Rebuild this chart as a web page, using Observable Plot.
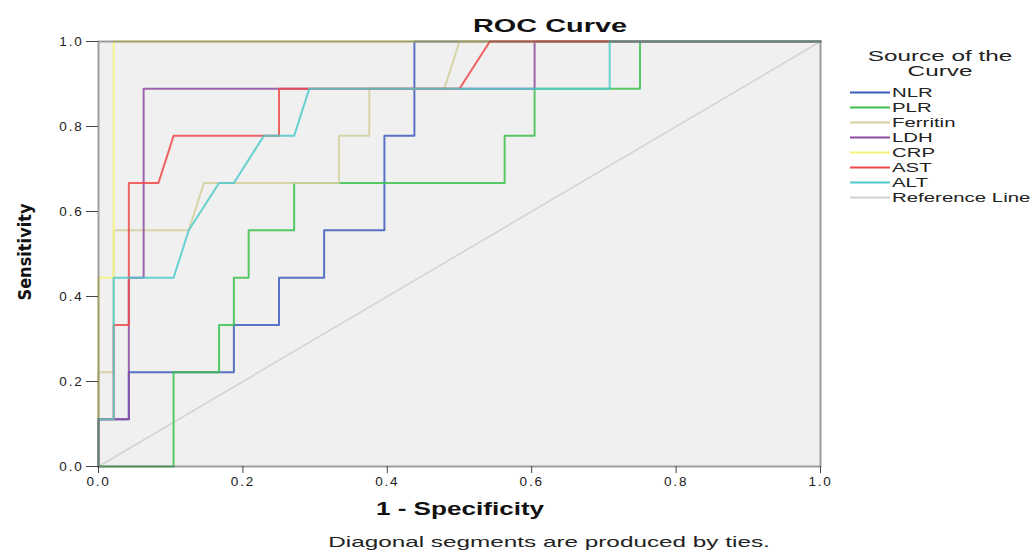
<!DOCTYPE html>
<html>
<head>
<meta charset="utf-8">
<script src="https://cdn.jsdelivr.net/npm/d3@7"></script>
<script src="https://cdn.jsdelivr.net/npm/@observablehq/plot@0.6"></script>
<style>
  body { margin: 0; background: #fff; }
  #chart svg { display: block; }
  #chart svg text { font-family: "Liberation Sans", Arial, sans-serif; }
</style>
</head>
<body>
<div id="chart"></div>
<script>
// ---- Data (1 - Specificity, Sensitivity) ----
const seriesNames = ["NLR", "PLR", "Ferritin", "LDH", "CRP", "AST", "ALT"];
const seriesColors = ["#3d5cbd", "#3cc04c", "#d3cf9c", "#8e4a9e", "#f7f37a", "#f04848", "#4fcaca"];
const referenceColor = "#d2d2d2";

const nlrX = [0, 0, 0.042, 0.042, 0.1875, 0.1875, 0.25, 0.25, 0.3125, 0.3125, 0.396, 0.396, 0.4375, 0.4375, 1];
const nlrY = [0, 0.111, 0.111, 0.222, 0.222, 0.333, 0.333, 0.444, 0.444, 0.556, 0.556, 0.778, 0.778, 1, 1];

const plrX = [0, 0.104, 0.104, 0.167, 0.167, 0.1875, 0.1875, 0.208, 0.208, 0.271, 0.271, 0.5625, 0.5625, 0.604, 0.604, 0.75, 0.75, 1];
const plrY = [0, 0, 0.222, 0.222, 0.333, 0.333, 0.444, 0.444, 0.556, 0.556, 0.667, 0.667, 0.778, 0.778, 0.889, 0.889, 1, 1];

const ferritinX = [0, 0, 0.021, 0.021, 0.125, 0.146, 0.333, 0.333, 0.375, 0.375, 0.479, 0.5, 1];
const ferritinY = [0, 0.222, 0.222, 0.556, 0.556, 0.667, 0.667, 0.778, 0.778, 0.889, 0.889, 1, 1];

const ldhX = [0, 0, 0.042, 0.042, 0.0625, 0.0625, 0.604, 0.604, 1];
const ldhY = [0, 0.111, 0.111, 0.444, 0.444, 0.889, 0.889, 1, 1];

const crpX = [0, 0, 0.021, 0.021, 1];
const crpY = [0, 0.444, 0.444, 1, 1];

const astX = [0, 0, 0.021, 0.021, 0.042, 0.042, 0.083, 0.104, 0.25, 0.25, 0.5, 0.542, 1];
const astY = [0, 0.111, 0.111, 0.333, 0.333, 0.667, 0.667, 0.778, 0.778, 0.889, 0.889, 1, 1];

const altX = [0, 0, 0.021, 0.021, 0.104, 0.125, 0.167, 0.1875, 0.229, 0.271, 0.292, 0.708, 0.708, 1];
const altY = [0, 0.111, 0.111, 0.444, 0.444, 0.556, 0.667, 0.667, 0.778, 0.778, 0.889, 0.889, 1, 1];

const refX = [0, 1];
const refY = [0, 1];

const tickValues = [0, 0.2, 0.4, 0.6, 0.8, 1.0];
const legendLabels = [...seriesNames, "Reference Line"];
const titleText = "ROC Curve";
const xLabel = "1 - Specificity";
const yLabel = "Sensitivity";
const captionText = "Diagonal segments are produced by ties.";
const legendTitle = ["Source of the", "Curve"];

// ---- Build tables ----
const seriesXY = [
  [nlrX, nlrY], [plrX, plrY], [ferritinX, ferritinY], [ldhX, ldhY],
  [crpX, crpY], [astX, astY], [altX, altY]
];
const toRows = (xs, ys) => xs.map((x, i) => ({x, y: ys[i]}));
const refRows = toRows(refX, refY);

const W = 1032, H = 550;
const mL = 98, mR = 212, mT = 41, mB = 84;

const marks = [
  Plot.frame({fill: "#f0f0f0"}),
  Plot.line(refRows, {x: "x", y: "y", stroke: referenceColor, strokeWidth: 1.5}),
  ...seriesXY.map(([xs, ys], i) =>
    Plot.line(toRows(xs, ys), {x: "x", y: "y", stroke: seriesColors[i], strokeWidth: 2, strokeOpacity: 0.85, curve: "linear"})
  ),
  Plot.frame({stroke: "#555", strokeWidth: 2, strokeOpacity: 0.55}),
  Plot.axisX({ticks: tickValues, tickFormat: d3.format(".1f"), tickSize: 7, label: null, stroke: "#444", fill: "#222"}),
  Plot.axisY({ticks: tickValues, tickFormat: d3.format(".1f"), tickSize: 12, tickPadding: 3, label: null, stroke: "#444", fill: "#222"})
];

const plot = Plot.plot({
  width: W, height: H,
  marginLeft: mL, marginRight: mR, marginTop: mT, marginBottom: mB,
  x: {domain: [0, 1]},
  y: {domain: [0, 1]},
  style: {fontSize: "13.5px", fontFamily: "Liberation Sans, Arial, sans-serif", background: "#fff", overflow: "visible"},
  marks
});
document.getElementById("chart").appendChild(plot);

// Tick label spacing like the reference
d3.select(plot).selectAll("g[aria-label='x-axis tick label'] text, g[aria-label='y-axis tick label'] text")
  .style("letter-spacing", "1.8px");

// ---- Titles, caption, legend as real text (widened like the reference) ----
const svg = d3.select(plot);
function wideText(t, x, y, anchor, sx, size, weight, fill) {
  return svg.append("text").text(t)
    .attr("transform", `translate(${x},${y}) scale(${sx},1)`)
    .attr("text-anchor", anchor)
    .style("font-size", size + "px").style("font-weight", weight).style("fill", fill);
}

wideText(titleText, 550, 32, "middle", 1.52, 19, "bold", "#111");
wideText(xLabel, 460, 515, "middle", 1.45, 18, "bold", "#111");
wideText(captionText, 549, 547, "middle", 1.62, 15, "normal", "#222");

svg.append("text").text(yLabel)
  .attr("transform", "translate(31,252) rotate(-90)").attr("text-anchor", "middle")
  .style("font-family", "'Liberation Sans Narrow', 'DejaVu Sans Condensed', Arial, sans-serif")
  .style("font-size", "18px").style("font-weight", "bold").style("fill", "#111");

legendTitle.forEach((t, i) => wideText(t, 940, 61 + i * 14.5, "middle", 1.62, 15, "normal", "#222"));

const legendColors = [...seriesColors, referenceColor];
legendLabels.forEach((lab, i) => {
  const yy = 92.5 + i * 15;
  svg.append("line").attr("x1", 850).attr("x2", 890).attr("y1", yy).attr("y2", yy)
    .attr("stroke", legendColors[i]).attr("stroke-width", 2);
  wideText(lab, 892, yy + 4.5, "start", 1.57, 13, "normal", "#222");
});
</script>
</body>
</html>
